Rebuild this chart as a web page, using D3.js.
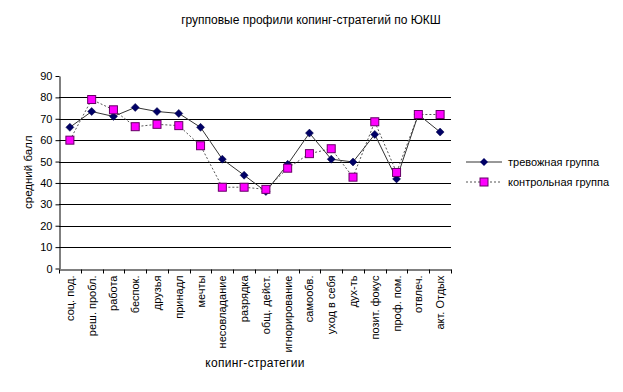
<!DOCTYPE html>
<html><head><meta charset="utf-8">
<script src="https://cdn.jsdelivr.net/npm/d3@7"></script>
<style>body{margin:0;background:#fff;}svg{display:block;font-family:"Liberation Sans",Arial,sans-serif;}</style>
</head><body>
<svg id="c" width="623" height="392"></svg>
<script>
const categories = ["соц. под.","реш. пробл.","работа","беспок.","друзья","принадл","мечты","несовладание","разрядка","общ. дейст.","игнорирование","самообв.","уход в себя","дух-ть","позит. фокус","проф. пом.","отвлеч.","акт. Отдых"];
const anxious = [66,73.4,71.1,75.3,73.4,72.5,66,51.1,43.6,36,48.7,63.3,51.1,49.8,62.7,41.9,72,63.8];
const control = [60,79,74.2,66.3,67.4,66.8,57.4,38,38,37,46.9,53.7,56,42.7,68.6,44.9,72,72];
const yTicks = [0,10,20,30,40,50,60,70,80,90];
const seriesNames = ["тревожная группа","контрольная группа"];
const title = "групповые профили копинг-стратегий по ЮКШ";
const yTitle = "средний балл";
const xTitle = "копинг-стратегии";

const svg = d3.select("#c");
const L=59, R=451, T=76, B=268.5;
const x = d3.scaleBand().domain(categories).range([L,R]);
const y = d3.scaleLinear().domain([0,90]).range([B,T]);

svg.append("g").selectAll("line").data(yTicks.filter(v=>v>0&&v<90)).join("line")
  .attr("x1",L).attr("x2",R).attr("y1",d=>Math.round(y(d))+0.5).attr("y2",d=>Math.round(y(d))+0.5)
  .attr("stroke","#000").attr("stroke-width",1);

const ya = svg.append("g").attr("transform",`translate(${L+0.5},0)`)
  .call(d3.axisLeft(y).tickValues(yTicks).tickSize(4).tickPadding(3).tickSizeOuter(0));
ya.select(".domain").attr("stroke","#000");
ya.selectAll("text").attr("font-size",11).attr("fill","#000").attr("font-family","Liberation Sans, Arial, sans-serif");

const xa = svg.append("g").attr("transform",`translate(0,${Math.round(B)+0.5})`)
  .call(d3.axisBottom(x).tickSize(0).tickSizeOuter(0));
xa.select(".domain").attr("stroke","#000");
xa.selectAll(".tick text").remove();
const bounds = categories.map(c=>x(c)).concat([R]);
xa.selectAll("line.bt").data(bounds).join("line").attr("class","bt")
  .attr("x1",d=>Math.round(d)+0.5).attr("x2",d=>Math.round(d)+0.5).attr("y1",0).attr("y2",4).attr("stroke","#000");
svg.append("g").selectAll("text").data(categories).join("text")
  .attr("transform",d=>`translate(${x(d)+x.bandwidth()/2+4},${B+7}) rotate(-90)`)
  .attr("text-anchor","end").attr("font-size",11).attr("fill","#000").text(d=>d);

const line = d3.line().x((d,i)=>x(categories[i])+x.bandwidth()/2).y(d=>y(d));
svg.append("path").datum(control).attr("d",line).attr("fill","none")
  .attr("stroke","#555").attr("stroke-width",1).attr("stroke-dasharray","2,2");
svg.append("path").datum(anxious).attr("d",line).attr("fill","none")
  .attr("stroke","#333").attr("stroke-width",1);

const diamond = (cx,cy)=>`M${cx},${cy-4}L${cx+4},${cy}L${cx},${cy+4}L${cx-4},${cy}Z`;
svg.append("g").selectAll("path").data(anxious).join("path")
  .attr("d",(d,i)=>diamond(x(categories[i])+x.bandwidth()/2,y(d)))
  .attr("fill","#000066").attr("stroke","#000040").attr("stroke-width",0.5);
svg.append("g").selectAll("rect").data(control).join("rect")
  .attr("x",(d,i)=>x(categories[i])+x.bandwidth()/2-4).attr("y",d=>y(d)-4)
  .attr("width",8).attr("height",8).attr("fill","#ff00ff").attr("stroke","#660066").attr("stroke-width",1);

svg.append("text").attr("x",311).attr("y",24).attr("text-anchor","middle").attr("font-size",12).attr("fill","#000").text(title);
svg.append("text").attr("transform",`translate(32,${(T+B)/2}) rotate(-90)`).attr("text-anchor","middle").attr("font-size",11.5).attr("fill","#000").text(yTitle);
svg.append("text").attr("x",255).attr("y",367).attr("text-anchor","middle").attr("font-size",12).attr("letter-spacing",0.3).attr("fill","#000").text(xTitle);

const lg = svg.append("g");
[0,1].forEach(i=>{
  const ly = 162 + i*20;
  lg.append("line").attr("x1",466).attr("x2",502).attr("y1",ly).attr("y2",ly)
    .attr("stroke",i?"#555":"#333").attr("stroke-dasharray",i?"2,2":null);
  if(i===0) lg.append("path").attr("d",diamond(484,ly)).attr("fill","#000066");
  else lg.append("rect").attr("x",480).attr("y",ly-4).attr("width",8).attr("height",8).attr("fill","#ff00ff").attr("stroke","#660066");
  lg.append("text").attr("x",508).attr("y",ly+4).attr("font-size",11).attr("fill","#000").text(seriesNames[i]);
});
</script>
</body></html>
